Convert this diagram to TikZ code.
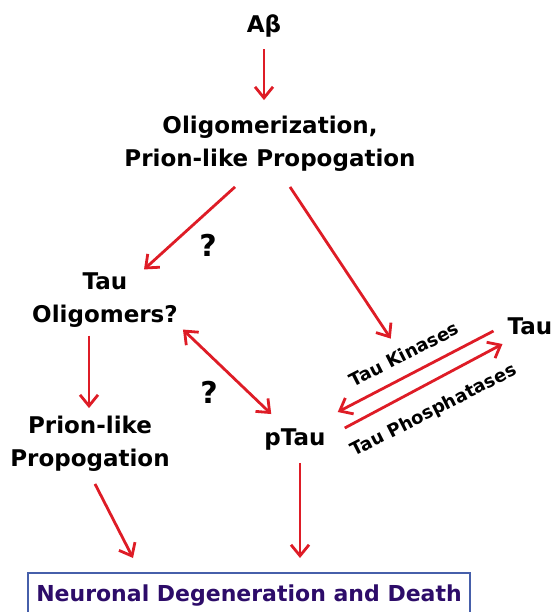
\documentclass[tikz,border=0pt]{standalone}
\usepackage{fontspec}
\setmainfont{DejaVu Sans}
\usetikzlibrary{arrows.meta}

\definecolor{arrred}{RGB}{222,28,38}
\definecolor{boxblue}{RGB}{70,95,170}
\definecolor{deathtxt}{RGB}{45,12,105}

\begin{document}
\begin{tikzpicture}[x=1pt,y=-1pt,
        lbl/.style={font=\fontsize{23}{33}\selectfont\bfseries, align=center, inner sep=0pt},
        qmark/.style={font=\fontsize{30}{30}\selectfont\bfseries, inner sep=0pt},
        enz/.style={font=\fontsize{18}{20}\selectfont\bfseries, inner sep=0pt, rotate=27},
        arr/.style={draw=arrred, line width=2.8pt, -{Straight Barb[length=11pt,width=18pt]}}]
        \useasboundingbox (0,0) rectangle (555,612);

        \node[lbl] (ab) at (264,26) {Aβ};
        \node[lbl] (olig) at (270,144) {Oligomerization,\\Prion-like Propogation};
        \node[lbl] (tauo) at (105,300) {Tau\\Oligomers?};
        \node[lbl] (prion) at (90,444) {Prion-like\\Propogation};
        \node[lbl] (ptau) at (295,440) {pTau};
        \node[lbl] (tau) at (530,326) {Tau};
        \node[qmark] (q1) at (208,245) {?};
        \node[qmark] (q2) at (209,392) {?};
        \node[enz] (kin) at (404,354) {Tau Kinases};
        \node[enz] (phos) at (434,411) {Tau Phosphatases};
        \node[draw=boxblue, line width=1.5pt, text=deathtxt, anchor=north,
              font=\fontsize{22}{26}\selectfont\bfseries,
              minimum width=442pt, minimum height=46pt] (death) at (249,572)
              {Neuronal Degeneration and Death};

        \draw[arr] ([yshift=-12pt]ab.south) -- ([yshift=16pt]ab.south |- olig.north);
        \draw[arr] ([xshift=-35pt,yshift=-15pt]olig.south) -- ([xshift=39pt,yshift=3pt]tauo.north);
        \draw[arr] ([xshift=20pt,yshift=-15pt]olig.south) -- ([xshift=-10pt,yshift=9pt]kin.north);
        \draw[arr] ([xshift=-16pt,yshift=-8pt]tauo.south) -- ([xshift=-1pt,yshift=8pt]prion.north);
        \draw[arr, {Straight Barb[length=11pt,width=18pt]}-{Straight Barb[length=11pt,width=18pt]}]
            ([xshift=5pt,yshift=-2pt]tauo.south east) -- ([xshift=7pt,yshift=15pt]ptau.north west);
        \draw[arr] ([xshift=5pt,yshift=-12pt]prion.south) -- ([xshift=-116pt,yshift=14pt]death.north);
        \draw[arr] ([xshift=5pt,yshift=-12pt]ptau.south) -- ([xshift=51pt,yshift=14pt]death.north);
        \draw[arr] ([xshift=-14pt,yshift=-5pt]tau.west) -- ([xshift=12pt,yshift=28pt]ptau.east);
        \draw[arr] ([xshift=19pt,yshift=12pt]ptau.east) -- ([xshift=-5pt,yshift=-18pt]tau.west);
\end{tikzpicture}
\end{document}
